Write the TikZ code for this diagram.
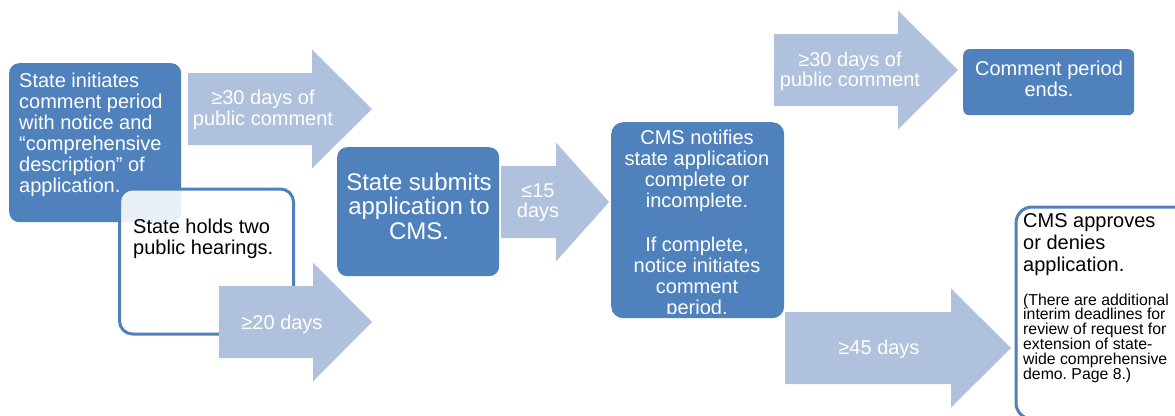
\documentclass[tikz,border=0pt]{standalone}
\usepackage{fontspec}
\setmainfont{Liberation Sans}
\usepackage{tikz}
\definecolor{boxblue}{RGB}{79,129,189}
\definecolor{arrowblue}{RGB}{176,193,221}
\frenchspacing

% Blockpfeil: links, Kopfansatz, Spitze, Mitte (y)
\newcommand{\bigarrow}[4]{%
  \fill[arrowblue] (#1,#4-36) -- (#2,#4-36) -- (#2,#4-59.5) -- (#3,#4)
    -- (#2,#4+59.5) -- (#2,#4+36) -- (#1,#4+36) -- cycle;}

\begin{document}
\begin{tikzpicture}[line cap=round,line join=round,x=1pt,y=-1pt,
  bluebox/.style={fill=boxblue,rounded corners=10pt,inner sep=0pt,anchor=north west},
  whitebox/.style={draw=boxblue,line width=3pt,fill=white,rounded corners=13pt,inner sep=0pt,anchor=north west},
  boxtext/.style={text=white,inner sep=0pt,font=\fontsize{20}{21}\selectfont},
  daystext/.style={text=white,inner sep=0pt,align=center,font=\fontsize{20}{21}\selectfont}]

	\useasboundingbox (0,0) rectangle (1175,415);

	% Kasten: Start
	\node[bluebox,minimum width=172pt,minimum height=159pt] (initbox) at (9,63) {};
	\node[boxtext,align=left,anchor=west] (inittext) at (19,134.5)
		{State initiates\\comment period\\with notice and\\“comprehensive\\description” of\\application.};

	% Kasten: Anhoerungen
	\node[whitebox,fill opacity=0.88,minimum width=174pt,minimum height=145pt] (hearbox) at (118,187.5) {};
	\node[inner sep=0pt,align=left,anchor=west,font=\fontsize{20}{21}\selectfont] (heartext) at (133,238.5)
		{State holds two\\public hearings.};

	% Pfeile
	\foreach \lx/\hx/\tx/\cy in {188/312/372/109, 219/313/372/322, 501/556/609/202, 774/898/958/70, 785/951/1011/348}
	{\bigarrow{\lx}{\hx}{\tx}{\cy}}

	\node[daystext] (pubcomm) at (263,109.5) {≥30 days of\\public comment};
	\node[daystext] (hearwait) at (282,324) {≥20 days};
	\node[daystext,font=\fontsize{20}{20}\selectfont] (review) at (538,202.5) {≤15\\days};
	\node[daystext,font=\fontsize{20}{20}\selectfont] (comment) at (850,71) {≥30 days of\\public comment};
	\node[daystext] (decidewait) at (879,349) {≥45 days};

	% Kasten: Einreichung
	\node[bluebox,minimum width=162pt,minimum height=129pt] (submitbox) at (337,147) {};
	\node[boxtext,align=center,font=\fontsize{24}{24.5}\selectfont] (submittext) at (419,206)
		{State submits\\application to\\CMS.};

	% Kasten: Mitteilung (Text unten abgeschnitten)
	\node[bluebox,rounded corners=12pt,minimum width=173pt,minimum height=196pt] (notifybox) at (611,122) {};
	\begin{scope}
		\clip (611,122) rectangle (784,313);
		\node[boxtext,align=center,anchor=north] (notifytext) at (697,130)
			{CMS notifies\\state application\\complete or\\incomplete.\\[23pt]If complete,\\notice initiates\\comment\\period.};
	\end{scope}

	% Kasten: Ende
	\node[bluebox,rounded corners=6pt,minimum width=171pt,minimum height=66pt] (endbox) at (963,49) {};
	\node[boxtext,align=center] (endtext) at (1049,79) {Comment period\\ends.};

	% Kasten: Entscheidung
	\node[whitebox,rounded corners=16pt,minimum width=180pt,minimum height=212pt] (decidebox) at (1014.5,205.5) {};
	\node[inner sep=0pt,align=left,anchor=west,font=\fontsize{20}{22}\selectfont] (decidetext) at (1023,245)
		{CMS approves\\or denies\\application.};
	\node[inner sep=0pt,align=left,anchor=west,font=\fontsize{15.8}{14.8}\selectfont] (notetext) at (1023,338)
		{(There are additional\\interim deadlines for\\review of request for\\extension of state-\\wide comprehensive\\demo. Page 8.)};

\end{tikzpicture}
\end{document}
